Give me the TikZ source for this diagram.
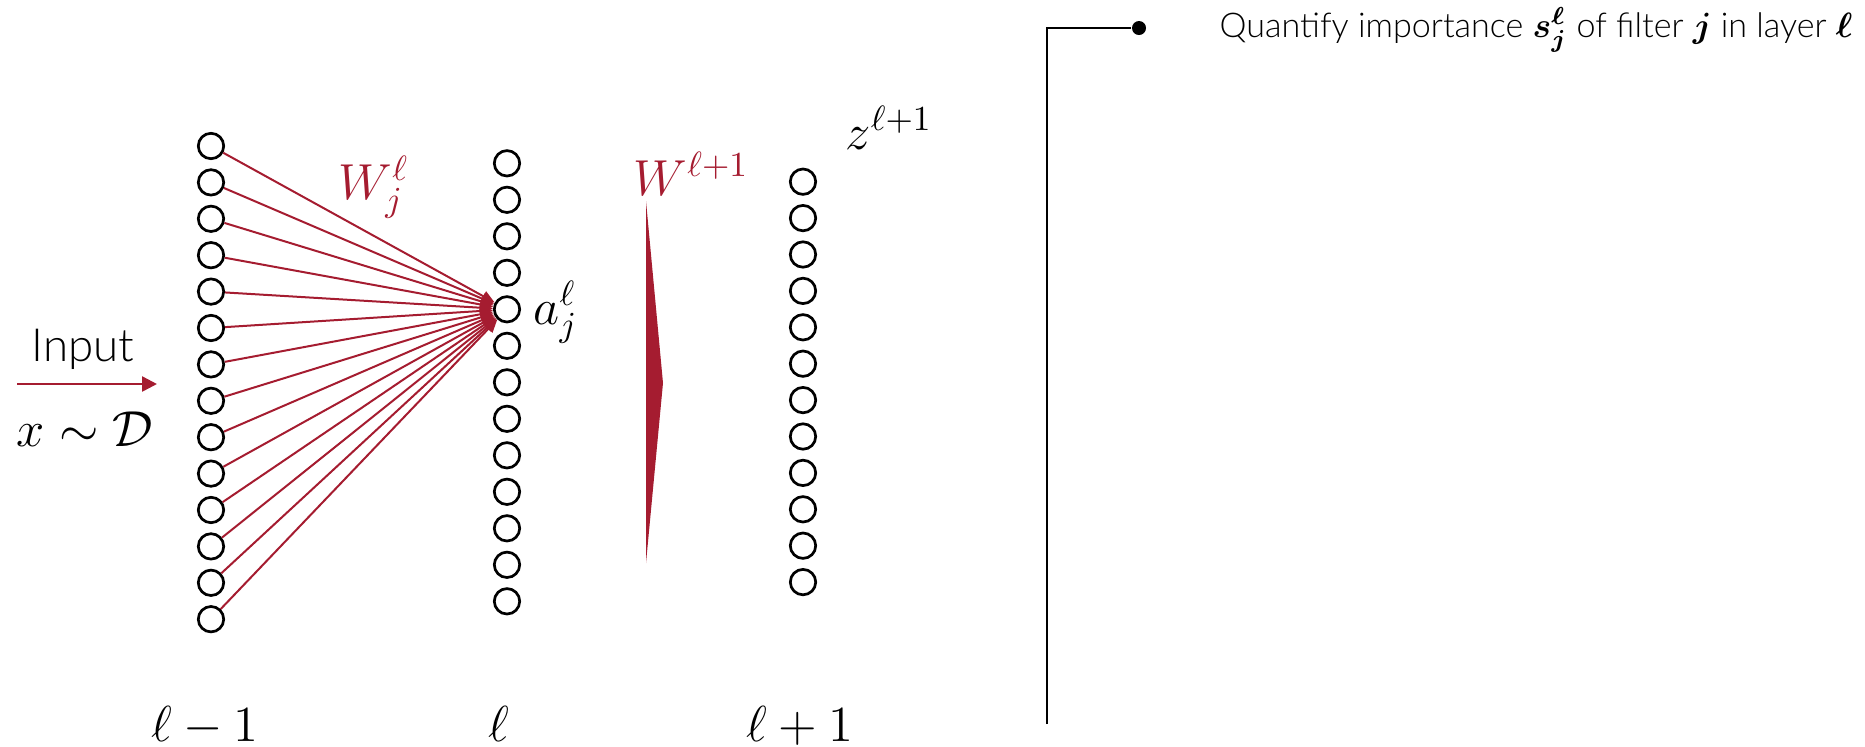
\documentclass[tikz,border=0pt]{standalone}
\usepackage{amsmath}
\usepackage{fontspec}
\newfontfamily\thinfont{Lato Light}
\usepackage{xcolor}
\usepackage{tikz}
\usetikzlibrary{arrows.meta, positioning}
\definecolor{crimson}{RGB}{165,28,48}
\tikzstyle{neuron} = [circle, draw=black, line width=0.27mm, minimum size=2.54mm, inner sep=0pt]
\tikzstyle{weight} = [draw=crimson, line width=0.2mm, -{Triangle[length=1.3mm, width=1.1mm]}]
\tikzstyle{mathlabel} = [font=\fontsize{14}{16}\selectfont, inner sep=0pt]
\tikzstyle{thinlabel} = [inner sep=0pt]

\begin{document}
\begin{tikzpicture}[x=0.1mm, y=-0.1mm]
    \useasboundingbox (0,0) rectangle (1865,746);

    \foreach \i in {1,...,14}
        \node (prev\i) [neuron] at (211, {146+36.4*(\i-1)}) {};
    \foreach \i in {1,...,13}
        \node (cur\i) [neuron] at (507, {163.3+36.5*(\i-1)}) {};
    \foreach \i in {1,...,12}
        \node (next\i) [neuron] at (803, {181.7+36.4*(\i-1)}) {};

    \foreach \i in {1,...,14}
        \draw [weight] (prev\i) -- (cur5);

    \fill [crimson] (646,201) -- (663,383) -- (646,563) -- cycle;

    \node (wj) [mathlabel, text=crimson, anchor=base west] at (338,199) {$W_j^{\ell}$};
    \node (aj) [mathlabel, anchor=base west] at (533,324) {$a_j^{\ell}$};
    \node (wnext) [mathlabel, text=crimson, anchor=base west] at (633,195) {$W^{\ell+1}$};
    \node (znext) [mathlabel, anchor=base west] at (845,149) {$z^{\ell+1}$};

    \node (lprev) [mathlabel, anchor=base] at (205,741) {$\ell-1$};
    \node (lcur) [mathlabel, anchor=base] at (499,741) {$\ell$};
    \node (lnext) [mathlabel, anchor=base] at (800,741) {$\ell+1$};

    \node (input) [thinlabel, font=\thinfont\fontsize{13}{15}\selectfont, anchor=base] at (83,361) {Input};
    \node (sample) [mathlabel, anchor=base] at (85,446) {$x\sim\mathcal{D}$};
    \coordinate (src) at (17,384);
    \coordinate (dst) at (157,384);
    \draw [weight, line width=0.25mm, -{Triangle[length=1.5mm, width=1.5mm]}] (src) -- (dst);

    \node (bullet) [circle, fill=black, inner sep=0pt, minimum size=1.4mm] at (1139,28) {};
    \coordinate (stem) at (1047,724);
    \draw [line width=0.18mm] (stem) |- (bullet);
    \node (task) [thinlabel, font=\thinfont\fontsize{9.7}{11}\selectfont, anchor=base west] at (1219,37)
        {Quantify importance $\boldsymbol{s_j^{\ell}}$ of filter $\boldsymbol{j}$ in layer $\boldsymbol{\ell}$};
\end{tikzpicture}
\end{document}
